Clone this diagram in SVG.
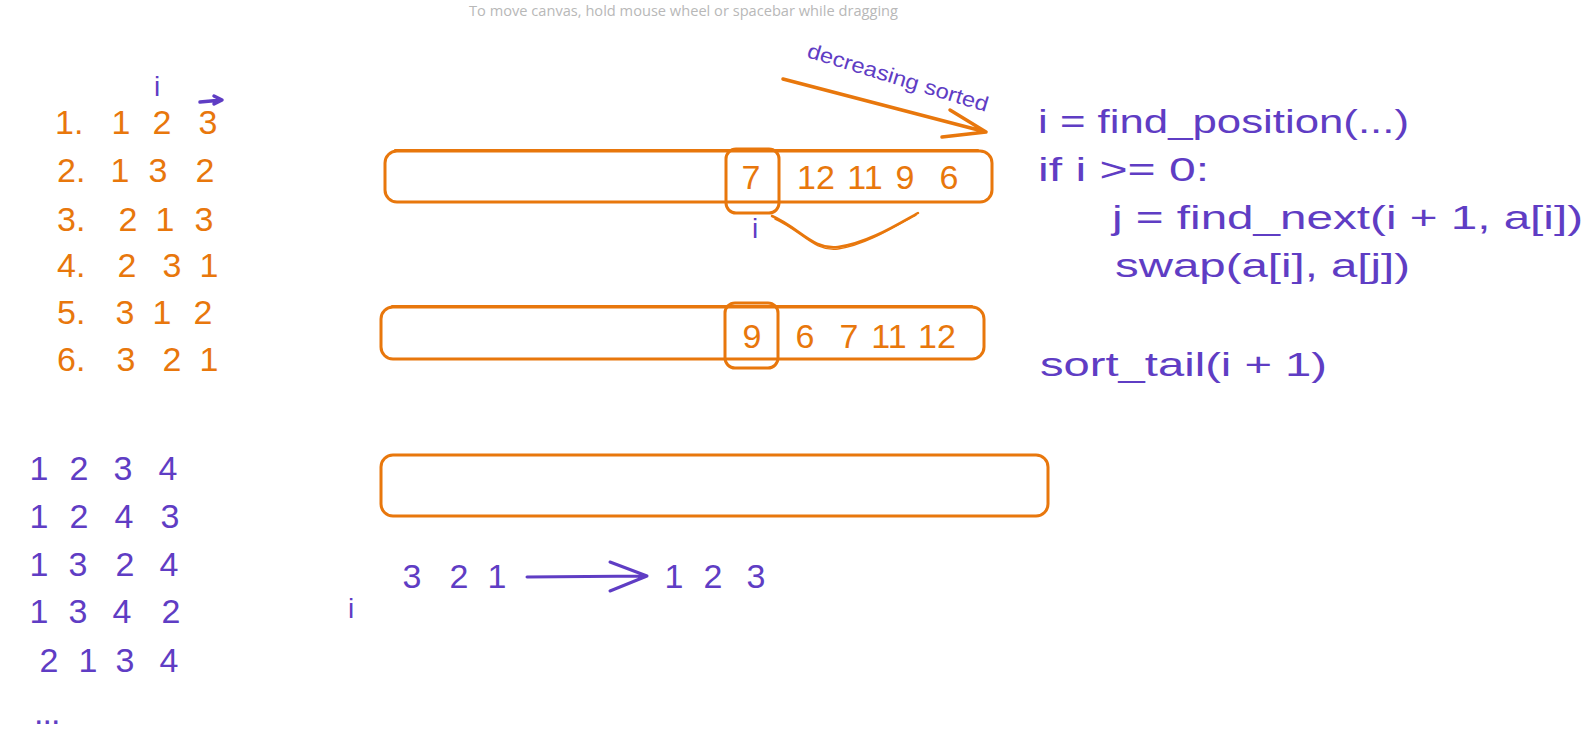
<svg xmlns="http://www.w3.org/2000/svg" width="1594" height="732" viewBox="0 0 1594 732">
<style>
  .o { fill: #e8770c; font-family: "Liberation Sans", Arial, sans-serif; font-size: 34px; }
  .b { fill: #5f3dc4; font-family: "Liberation Sans", Arial, sans-serif; font-size: 34px; }
  .m { text-anchor: middle; }
  .box { fill: none; stroke: #e8770c; stroke-width: 3; stroke-linejoin: round; }
  .ol { fill: none; stroke: #e8770c; stroke-width: 3.5; stroke-linecap: round; stroke-linejoin: round; }
  .bl { fill: none; stroke: #5f3dc4; stroke-width: 3; stroke-linecap: round; stroke-linejoin: round; }
  .hint { fill: #b8b8b8; font-family: "Open Sans", "Liberation Sans", sans-serif; font-size: 15px; }
</style>
<rect width="1594" height="732" fill="#ffffff"/>

<text class="hint" x="469" y="16" textLength="429" lengthAdjust="spacingAndGlyphs">To move canvas, hold mouse wheel or spacebar while dragging</text>

<!-- Top-left orange permutation list -->
<g id="perm3-list">
  <text class="b m" x="157" y="96" style="font-size:28px">i</text>
  <text class="o" x="55" y="134">1.</text>
  <text class="o m" x="121" y="134">1</text><text class="o m" x="162" y="134">2</text><text class="o m" x="208" y="134">3</text>
  <text class="o" x="57" y="182">2.</text>
  <text class="o m" x="120" y="182">1</text><text class="o m" x="158" y="182">3</text><text class="o m" x="205" y="182">2</text>
  <text class="o" x="57" y="231">3.</text>
  <text class="o m" x="128" y="231">2</text><text class="o m" x="165" y="231">1</text><text class="o m" x="204" y="231">3</text>
  <text class="o" x="57" y="277">4.</text>
  <text class="o m" x="127" y="277">2</text><text class="o m" x="172" y="277">3</text><text class="o m" x="209" y="277">1</text>
  <text class="o" x="57" y="324">5.</text>
  <text class="o m" x="125" y="324">3</text><text class="o m" x="162" y="324">1</text><text class="o m" x="203" y="324">2</text>
  <text class="o" x="57" y="371">6.</text>
  <text class="o m" x="126" y="371">3</text><text class="o m" x="172" y="371">2</text><text class="o m" x="209" y="371">1</text>
</g>

<!-- Bottom-left blue permutation list -->
<g id="perm4-list">
  <text class="b m" x="39" y="480">1</text><text class="b m" x="79" y="480">2</text><text class="b m" x="123" y="480">3</text><text class="b m" x="168" y="480">4</text>
  <text class="b m" x="39" y="528">1</text><text class="b m" x="79" y="528">2</text><text class="b m" x="124" y="528">4</text><text class="b m" x="170" y="528">3</text>
  <text class="b m" x="39" y="576">1</text><text class="b m" x="78" y="576">3</text><text class="b m" x="125" y="576">2</text><text class="b m" x="169" y="576">4</text>
  <text class="b m" x="39" y="623">1</text><text class="b m" x="78" y="623">3</text><text class="b m" x="122" y="623">4</text><text class="b m" x="171" y="623">2</text>
  <text class="b m" x="49" y="672">2</text><text class="b m" x="88" y="672">1</text><text class="b m" x="125" y="672">3</text><text class="b m" x="169" y="672">4</text>
  <text class="b" x="34" y="724" letter-spacing="-1">...</text>
</g>

<!-- Array 1 -->
<g id="array1">
  <rect class="box" x="385" y="151" width="607" height="51" rx="12"/>
  <path class="ol" d="M395,150 L978,150" style="stroke-width:2"/>
  <text class="o m" x="816" y="189">12</text>
  <text class="o m" x="865" y="189">11</text>
  <text class="o m" x="905" y="189">9</text>
  <text class="o m" x="949" y="189">6</text>
</g>
<g id="pivot1">
  <rect class="box" x="726" y="149" width="53" height="64" rx="10"/>
  <text class="o m" x="751" y="189">7</text>
  <text class="b m" x="755" y="238" style="font-size:28px">i</text>
</g>

<!-- Array 2 -->
<g id="array2">
  <rect class="box" x="381" y="307" width="603" height="52" rx="12"/>
  <path class="ol" d="M392,306 L972,306" style="stroke-width:2"/>
  <text class="o m" x="805" y="348">6</text>
  <text class="o m" x="849" y="348">7</text>
  <text class="o m" x="889" y="348">11</text>
  <text class="o m" x="937" y="348">12</text>
</g>
<g id="pivot2">
  <rect class="box" x="725" y="303" width="53" height="65" rx="10"/>
  <text class="o m" x="752" y="348">9</text>
</g>

<!-- Array 3 -->
<g id="array3">
  <rect class="box" x="381" y="455" width="667" height="61" rx="12"/>
</g>

<!-- Reverse example -->
<g id="reverse-example">
  <text class="b m" x="412" y="588">3</text>
  <text class="b m" x="459" y="588">2</text>
  <text class="b m" x="497" y="588">1</text>
  <text class="b m" x="674" y="588">1</text>
  <text class="b m" x="713" y="588">2</text>
  <text class="b m" x="756" y="588">3</text>
  <text class="b m" x="351" y="618" style="font-size:28px">i</text>
</g>

<!-- Labels -->
<g id="label-decreasing">
  <text class="b" x="806" y="57" style="font-size:21px" transform="rotate(17 806 57)" textLength="188" lengthAdjust="spacingAndGlyphs">decreasing sorted</text>
</g>

<!-- Code -->
<g id="code">
  <text class="b" x="1038" y="133" textLength="371" lengthAdjust="spacingAndGlyphs">i = find_position(...)</text>
  <text class="b" x="1038" y="181" textLength="171" lengthAdjust="spacingAndGlyphs">if i &gt;= 0:</text>
  <text class="b" x="1112" y="229" textLength="471" lengthAdjust="spacingAndGlyphs">j = find_next(i + 1, a[i])</text>
  <text class="b" x="1115" y="277" textLength="295" lengthAdjust="spacingAndGlyphs">swap(a[i], a[j])</text>
  <text class="b" x="1040" y="376" textLength="287" lengthAdjust="spacingAndGlyphs">sort_tail(i + 1)</text>
</g>

<!-- Connectors -->
<g id="connectors">
  <path class="ol" d="M783,79 L986,132 M950,110 L986,132 L942,137"/>
  <path class="ol" d="M772,216 C800,228 812,250 838,247 C868,243 898,224 918,213" style="stroke-width:2.5"/>
  <path class="ol" d="M775,219 C802,231 814,252 838,249 C866,245 896,226 916,215" style="stroke-width:1.5"/>
  <path class="bl" d="M527,577 L647,576 M610,562 L647,576 L610,591"/>
  <path class="bl" d="M200,102 L222,100 M214,96 L222,100 L214,104" style="stroke-width:3.5"/>
</g>
</svg>
